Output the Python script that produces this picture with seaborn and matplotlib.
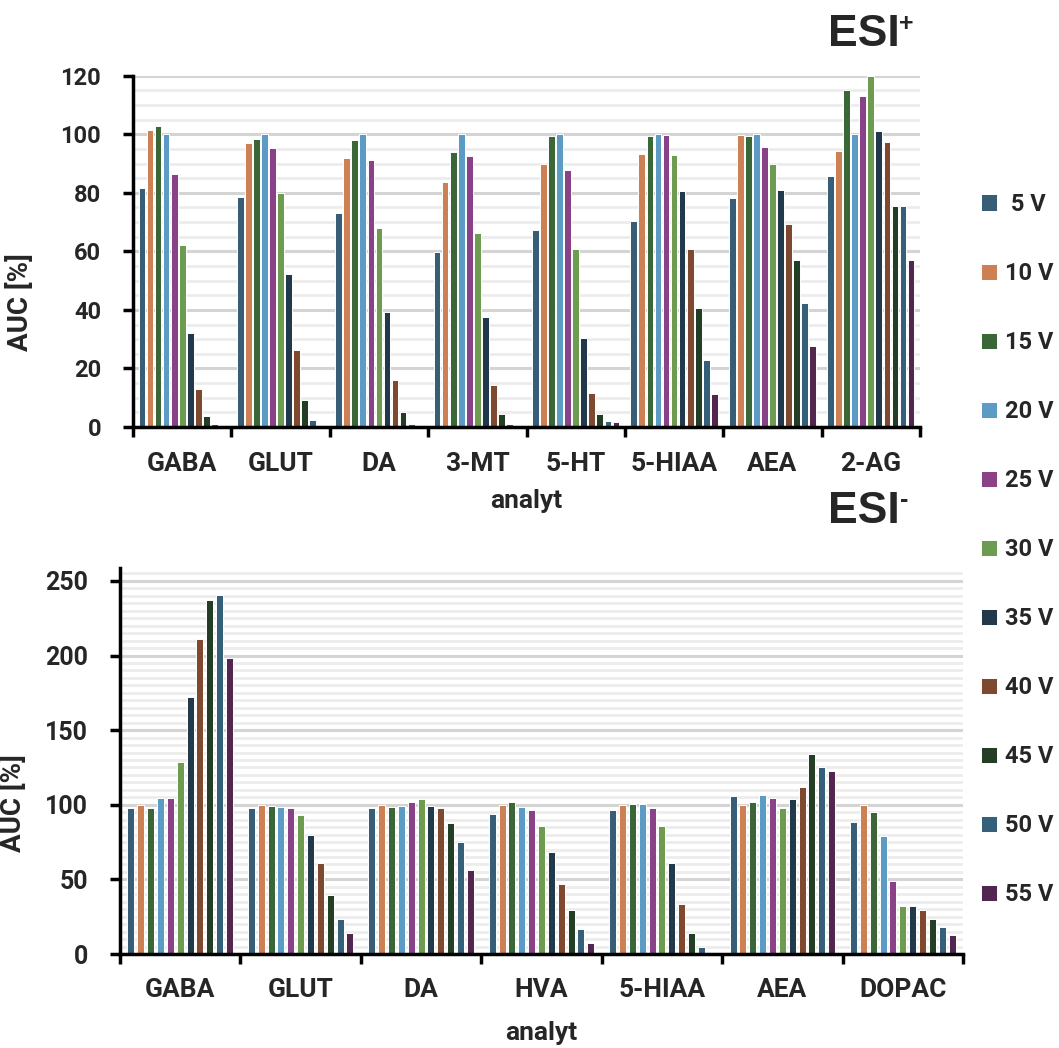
import numpy as np
import pandas as pd
import matplotlib
matplotlib.use("Agg")
import matplotlib.pyplot as plt
from matplotlib.ticker import MultipleLocator
import seaborn as sns

# collision energies (hue levels) and their colours
voltages = ["5 V", "10 V", "15 V", "20 V", "25 V", "30 V",
            "35 V", "40 V", "45 V", "50 V", "55 V"]
legend_labels = [" 5 V", "10 V", "15 V", "20 V", "25 V", "30 V",
                 "35 V", "40 V", "45 V", "50 V", "55 V"]
colors = ["#2E5F80", "#E07B3F", "#336E30", "#4A9FD6", "#953593", "#6AA842",
          "#1B3A52", "#8B4522", "#1F4220", "#2B6284", "#5A1F55"]

# ESI+ : relative AUC [%] for each analyte, 5 V ... 55 V
pos_analytes = ["GABA", "GLUT", "DA", "3-MT", "5-HT", "5-HIAA", "AEA", "2-AG"]
pos_gaba = [81.8, 101.5, 102.9, 100.0, 86.5, 62.3, 32.1, 13.1, 3.9, 1.1, 0.2]
pos_glut = [78.7, 97.0, 98.3, 100.0, 95.2, 80.0, 52.3, 26.2, 9.3, 2.5, 0.8]
pos_da = [73.2, 92.0, 97.9, 100.0, 91.1, 68.1, 39.4, 16.2, 5.2, 1.1, 0.7]
pos_3mt = [59.9, 83.6, 93.8, 100.0, 92.4, 66.3, 37.7, 14.5, 4.3, 1.1, 0.1]
pos_5ht = [67.2, 89.7, 99.3, 100.0, 87.9, 60.9, 30.4, 11.7, 4.3, 2.1, 1.6]
pos_5hiaa = [70.4, 93.2, 99.3, 100.0, 99.8, 92.8, 80.5, 60.9, 40.8, 23.0, 11.2]
pos_aea = [78.3, 99.8, 99.3, 100.0, 95.5, 90.0, 80.9, 69.5, 57.2, 42.2, 27.7]
pos_2ag = [85.6, 94.2, 115.2, 100.0, 112.9, 119.8, 101.1, 97.5, 75.6, 75.6, 56.9]

# ESI- : relative AUC [%] for each analyte, 5 V ... 55 V
neg_analytes = ["GABA", "GLUT", "DA", "HVA", "5-HIAA", "AEA", "DOPAC"]
neg_gaba = [97.6, 100.0, 97.6, 104.8, 104.8, 128.9, 171.9, 211.1, 237.0, 240.6, 198.4]
neg_glut = [97.6, 100.0, 99.4, 98.5, 97.6, 93.2, 79.8, 61.1, 39.7, 23.6, 13.8]
neg_da = [97.6, 100.0, 98.5, 99.4, 102.1, 103.9, 99.4, 97.6, 87.8, 75.3, 56.6]
neg_hva = [94.1, 100.0, 102.1, 98.5, 96.7, 86.0, 68.2, 46.8, 29.8, 16.5, 7.5]
neg_5hiaa = [96.7, 100.0, 100.3, 100.3, 97.6, 86.0, 61.1, 33.4, 13.8, 4.9, 1.3]
neg_aea = [105.7, 100.0, 102.1, 106.6, 104.8, 97.6, 103.9, 111.9, 134.2, 125.3, 122.6]
neg_dopac = [88.7, 100.0, 95.0, 78.9, 48.6, 32.5, 32.5, 29.8, 23.6, 18.2, 12.9]

pos_series = [pos_gaba, pos_glut, pos_da, pos_3mt, pos_5ht, pos_5hiaa, pos_aea, pos_2ag]
neg_series = [neg_gaba, neg_glut, neg_da, neg_hva, neg_5hiaa, neg_aea, neg_dopac]


def long_frame(analytes, series):
    rows = []
    for name, vals in zip(analytes, series):
        for volt, val in zip(voltages, vals):
            rows.append((name, volt, val))
    return pd.DataFrame(rows, columns=["analyt", "napeti", "AUC"])


sns.set_theme(style="white")
plt.rcParams["font.family"] = ["Roboto", "DejaVu Sans"]
plt.rcParams["font.weight"] = "bold"

fig = plt.figure(figsize=(10.59, 10.48), dpi=100)
W, H = 1059.0, 1048.0


def px_axes(left, top, right, bottom):
    return fig.add_axes([left / W, 1 - bottom / H, (right - left) / W, (bottom - top) / H])


ax_pos = px_axes(133, 75.7, 920, 427)
ax_neg = px_axes(120, 567.5, 963, 954)


def draw_panel(ax, analytes, series, ymax, major, gap, show_legend,
               ylab_xy, ylab_size, ytick_size, xlab_y, xpad):
    df = long_frame(analytes, series)
    sns.barplot(data=df, x="analyt", y="AUC", hue="napeti",
                order=analytes, hue_order=voltages, palette=colors,
                width=0.9, gap=gap, edgecolor="white", linewidth=0.7,
                errorbar=None, legend=show_legend, ax=ax, zorder=3)
    n = len(analytes)
    ax.set_xlim(-0.5, n - 0.5)
    ax.set_ylim(0, ymax)
    ax.yaxis.set_major_locator(MultipleLocator(major))
    ax.yaxis.set_minor_locator(MultipleLocator(5))
    ax.grid(False)
    ax.set_axisbelow(True)
    ax.yaxis.grid(True, which="minor", color="#ececec", linewidth=2.0, zorder=0)
    ax.yaxis.grid(True, which="major", color="#d4d4d4", linewidth=2.2, zorder=0)

    # category boundary ticks like a spreadsheet chart
    ax.set_xticks(np.arange(n))
    ax.set_xticklabels(analytes, fontsize=19, fontweight="bold")
    ax.set_xticks(np.arange(-0.5, n, 1.0), minor=True)
    ax.tick_params(axis="x", which="major", length=0, pad=xpad)
    ax.tick_params(axis="x", which="minor", length=7, width=2.5,
                   direction="out", color="black", bottom=True)
    ax.tick_params(axis="y", which="major", length=7, width=2.5,
                   direction="out", color="black", left=True, pad=16,
                   labelsize=ytick_size)
    ax.tick_params(axis="y", which="minor", length=0)
    for lab in ax.get_yticklabels():
        lab.set_fontweight("bold")

    for side in ("top", "right"):
        ax.spines[side].set_visible(False)
    for side in ("left", "bottom"):
        ax.spines[side].set_color("black")
        ax.spines[side].set_linewidth(2.5)
        ax.spines[side].set_zorder(5)

    ax.set_ylabel("AUC [%]", fontsize=ylab_size, fontweight="bold")
    ax.yaxis.set_label_coords(*ylab_xy)
    ax.set_xlabel("analyt", fontsize=19, fontweight="bold")
    ax.xaxis.set_label_coords(0.5, xlab_y)


draw_panel(ax_pos, pos_analytes, pos_series, 120, 20, 0.16, True,
           ((34 - 133) / 787.0, (427 - 302) / 351.3), 20, 17,
           -(489 - 427) / 351.3, 18)
draw_panel(ax_neg, neg_analytes, neg_series, 259, 50, 0.28, False,
           ((27 - 120) / 843.0, (954 - 803) / 386.5), 20, 18,
           -(1021 - 954) / 386.5, 17)

handles, _ = ax_pos.get_legend_handles_labels()
ax_pos.get_legend().remove()
fig.legend(handles, legend_labels, loc="upper left",
           bbox_to_anchor=(981 / W, 1 - 193 / H), frameon=False,
           borderpad=0, borderaxespad=0, handlelength=0.68, handleheight=0.7,
           handletextpad=0.34, labelspacing=1.95,
           prop={"size": 17, "weight": "bold"})

# ionisation mode titles
title_font = dict(family=["Liberation Sans", "DejaVu Sans"], fontweight="bold")
fig.text(828 / W, 1 - 35 / H, "ESI", fontsize=32, ha="left", va="center", **title_font)
fig.text(899 / W, 1 - 24 / H, "+", fontsize=18, ha="left", va="center", **title_font)
fig.text(828 / W, 1 - 512 / H, "ESI", fontsize=32, ha="left", va="center", **title_font)
fig.text(900 / W, 1 - 500 / H, "-", fontsize=18, ha="left", va="center", **title_font)

fig.savefig("out.png", dpi=100, facecolor="white")
